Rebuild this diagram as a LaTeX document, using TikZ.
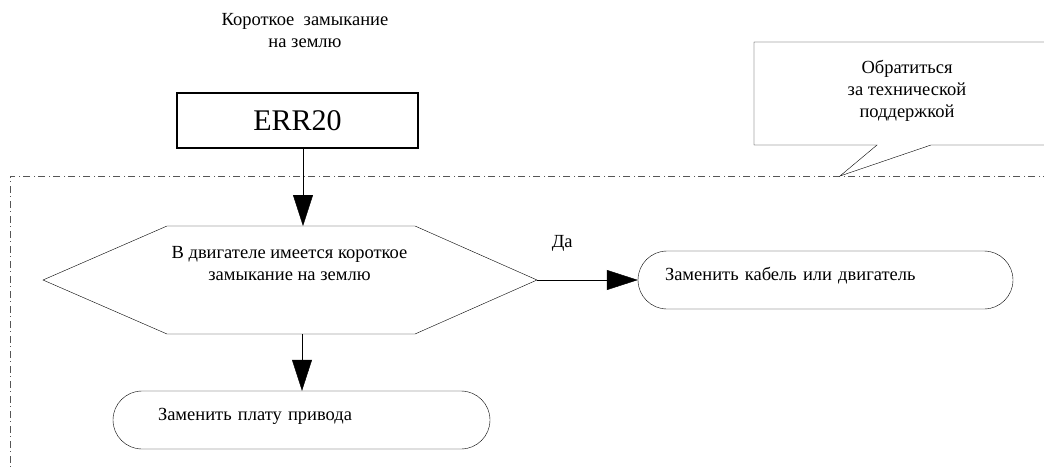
\documentclass[tikz,border=0pt]{standalone}
\usepackage{fontspec}
\setmainfont{Liberation Serif}
\usetikzlibrary{arrows.meta,calc,positioning}
\definecolor{ink}{HTML}{000000}
\definecolor{framegray}{HTML}{555555}
\tikzset{line width=1pt,
  every node/.style={font=\fontsize{18.5}{22}\selectfont},
  flow/.style={draw=ink,-{Triangle[length=31pt,width=20pt]}},
  frameline/.style={draw=framegray,line width=1pt,dash pattern=on 7pt off 3pt on 1pt off 4pt},
  stadium/.style={draw=ink,fill=white,rounded corners=29pt,minimum height=58pt,align=left,
    text height=13pt,text depth=13pt}}

\begin{document}
\begin{tikzpicture}[x=1pt,y=-1pt,errbox/.style={draw=ink,line width=2.5pt,minimum width=241pt,minimum height=55pt,font=\fontsize{30}{32}\selectfont}]
\useasboundingbox (0,0) rectangle (1044,471);
\fill[white] (0,0) rectangle (1044,471);
\clip (0,0) rectangle (1044,471);
% dash-dot frame
\draw[frameline] (1050,176) -- (10,176) -- (10,480);
\node[align=center] (title) at (305,31) {Короткое\ \ замыкание\\на землю};
\node[errbox] (err) at (297.5,120.5) {ERR20};
% question
\draw[fill=white] (43,280) coordinate (faultW) -- (167,226) -- (415,226) -- (537,280) coordinate (faultE) -- (415,334) -- (167,334) -- cycle;
\coordinate (faultN) at (303,226);\coordinate (faultS) at (302,334);
\node[align=center] (fault) at (289.5,264) {В двигателе имеется короткое\\замыкание на землю};
\node[stadium,text width=321pt,inner xsep=27pt] (cable) at (825.5,280) {Заменить кабель или двигатель};
\node[stadium,text width=287pt,inner xsep=45pt] (board) at (301.5,420) {Заменить плату привода};
\draw[flow] (err.south -| faultN)--(faultN);
\draw[flow] (faultE)--node[pos=.25,yshift=37pt] (yes) {Да}(cable.west);
\draw[flow] (faultS)--(faultS |- board.north);
% callout
\draw[fill=white] (1060,42) -| (754,145) -- (877,145) -- (840,176) -- (931,145) -- (1060,145);
\node[align=center] (support) at (907,91) {Обратиться\\за технической\\поддержкой};
\end{tikzpicture}
\end{document}
